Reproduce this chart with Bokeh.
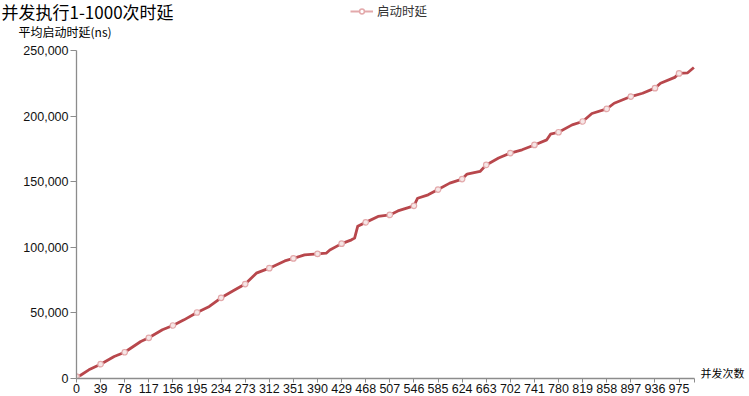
from bokeh.plotting import figure
from bokeh.layouts import column
from bokeh.models import (Range1d, FixedTicker, NumeralTickFormatter, Label,
                          Legend, LegendItem)
from bokeh.embed import file_html
from bokeh.resources import INLINE

# ---- data ----
title_text = "并发执行1-1000次时延"
y_title = "平均启动时延(ns)"
x_title = "并发次数"
series_name = "启动时延"

xs = [0, 6, 20, 39, 61, 78, 104, 117, 139, 156, 174, 195, 215, 234, 255, 273, 291, 312,
      337, 351, 369, 390, 404, 410, 429, 445, 450, 455, 468, 488, 507, 520, 546, 552,
      569, 585, 604, 624, 632, 653, 663, 683, 702, 721, 741, 761, 767, 780, 802, 819,
      834, 858, 870, 883, 897, 916, 936, 945, 968, 975, 989, 999]
ys = [1500, 2300, 6600, 10900, 16800, 20000, 28200, 31000, 37100, 40400, 44700, 50300,
      54900, 61500, 67200, 72000, 80300, 84100, 89600, 91500, 94200, 95000, 95500, 98000,
      102800, 105700, 107000, 116000, 119000, 123500, 124700, 127700, 131600, 137400,
      140000, 144000, 148900, 152000, 155800, 157800, 162800, 168000, 171800, 174300,
      178000, 181900, 186200, 187700, 193300, 195900, 202000, 205500, 209800, 212300,
      214900, 217400, 221300, 225000, 229500, 232500, 233000, 237000]

x_ticks = list(range(0, 1000, 39))
y_ticks = [0, 50000, 100000, 150000, 200000, 250000]

marker_x = [x for x in xs if x % 39 == 0]
marker_y = [y for x, y in zip(xs, ys) if x % 39 == 0]

LINE = "#B8474C"
PINK = "#E3A9AB"
CJK = "Noto Sans CJK SC"
NUM = "Liberation Sans"
NUM_NARROW = "'Liberation Sans Narrow', 'Liberation Sans', sans-serif"

W = 749
HEAD_H = 40
MAIN_H = 396 - HEAD_H

# ---------------- header (title, legend, y-axis title) ----------------
head = figure(width=W, height=HEAD_H, output_backend="svg", toolbar_location=None,
              x_range=Range1d(0, 1), y_range=Range1d(0, 1),
              x_axis_type=None, y_axis_type=None,
              min_border_left=0, min_border_right=0, min_border_top=0,
              min_border_bottom=0)
head.frame_align = False
head.outline_line_color = None
head.background_fill_color = "white"
head.border_fill_color = "white"
head.xgrid.visible = False
head.ygrid.visible = False

head.add_layout(Label(x=1, y=HEAD_H - 11, x_units="screen", y_units="screen",
                      text=title_text, text_font=CJK, text_font_size="17px",
                      text_color="#000000", text_baseline="middle", text_align="left"))
head.add_layout(Label(x=18, y=HEAD_H - 31, x_units="screen", y_units="screen",
                      text=y_title, text_font=CJK, text_font_size="12px",
                      text_color="#000000", text_baseline="middle", text_align="left"))

# legend proxies: the series' first points lie outside the header's ranges,
# so only their legend glyphs are visible
leg_line = head.line(marker_x[:2], marker_y[:2], line_color=PINK, line_width=2)
leg_mark = head.scatter(marker_x[:1], marker_y[:1], marker="circle", size=9,
                        line_color=PINK, fill_color="white", line_width=1.5)
legend = Legend(items=[LegendItem(label=series_name, renderers=[leg_line, leg_mark])],
                location=(350, HEAD_H - 20), orientation="horizontal",
                glyph_width=23, glyph_height=12, label_height=12, label_standoff=4,
                padding=0, margin=0, spacing=0, border_line_color=None,
                background_fill_alpha=0, label_text_font=CJK,
                label_text_font_size="12.5px", label_text_color="#333333")
head.add_layout(legend)

# ---------------- main chart ----------------
p = figure(width=W, height=MAIN_H, output_backend="svg", toolbar_location=None,
           x_range=Range1d(0, 673 / 0.618), y_range=Range1d(0, 333 / 328 * 250000),
           min_border_left=76, min_border_right=0, min_border_top=5,
           min_border_bottom=18)
p.frame_align = False
p.outline_line_color = None
p.xgrid.grid_line_color = None
p.ygrid.grid_line_color = None
p.background_fill_color = "white"
p.border_fill_color = "white"

p.line(xs, ys, line_color=LINE, line_width=2.8, line_join="round")
p.scatter(marker_x, marker_y, marker="circle", size=5.5, line_color=PINK,
          fill_color="#F6E6E6", line_width=1.2)

for ax in (p.xaxis[0], p.yaxis[0]):
    ax.axis_line_color = "#8C8C8C"
    ax.axis_line_width = 1.3
    ax.major_tick_line_color = "#8C8C8C"
    ax.minor_tick_line_color = None
    ax.major_tick_in = 0
    ax.major_label_text_color = "#111111"

p.xaxis.bounds = (0, 1000)
p.xaxis.ticker = FixedTicker(ticks=x_ticks + [1000])
p.xaxis.major_label_overrides = {1000: ""}
p.xaxis.major_tick_out = 4
p.xaxis.major_label_standoff = 1
p.xaxis.major_label_text_font = NUM_NARROW
p.xaxis.major_label_text_font_size = "12.5px"

p.yaxis.bounds = (0, 250000)
p.yaxis.ticker = FixedTicker(ticks=y_ticks)
p.yaxis.formatter = NumeralTickFormatter(format="0,0")
p.yaxis.major_tick_out = 6
p.yaxis.major_label_standoff = 2
p.yaxis.major_label_text_font = NUM
p.yaxis.major_label_text_font_size = "12.5px"

p.add_layout(Label(x=624, y=6, x_units="screen", y_units="screen", text=x_title,
                   text_font=CJK, text_font_size="11px", text_color="#000000",
                   text_baseline="middle", text_align="left"))

layout = column(head, p, spacing=0)
open("out.html", "w").write(file_html(layout, INLINE))
